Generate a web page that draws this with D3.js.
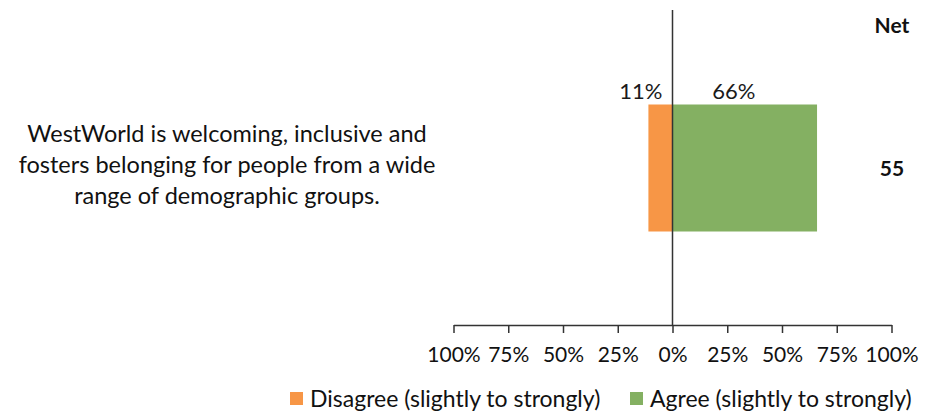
<!DOCTYPE html>
<html>
<head>
<meta charset="utf-8">
<script src="https://cdn.jsdelivr.net/npm/d3@7"></script>
<style>
  html, body { margin: 0; padding: 0; background: #fff; }
  svg { display: block; font-family: Lato, "Open Sans", sans-serif; }
</style>
</head>
<body>
<svg id="chart" width="936" height="412"></svg>
<script>
// Survey statement and its diverging results
const categories = ["WestWorld is welcoming, inclusive and fosters belonging for people from a wide range of demographic groups."];
const categoryLines = [["WestWorld is welcoming, inclusive and", "fosters belonging for people from a wide", "range of demographic groups."]];
const disagree = [11];
const agree = [66];
const net = [55];
const tickValues = [-100, -75, -50, -25, 0, 25, 50, 75, 100];
const tickLabels = ["100%", "75%", "50%", "25%", "0%", "25%", "50%", "75%", "100%"];
const seriesNames = ["Disagree (slightly to strongly)", "Agree (slightly to strongly)"];
const colors = ["#F79646", "#84B062"];

const svg = d3.select("#chart");

const x = d3.scaleLinear().domain([-100, 100]).range([453.5, 891.5]);
const y = d3.scaleBand().domain(categories).range([10, 325]).paddingInner(0).paddingOuter(0.3);
// bar band is narrower than the full row
const barH = 127;
const rowY = c => y(c) + (y.bandwidth() - barH) / 2 + 0.5;

const g = svg.append("g");
categories.forEach((c, i) => {
  // diverging bars
  g.append("rect")
    .attr("x", x(-disagree[i])).attr("y", rowY(c))
    .attr("width", x(0) - x(-disagree[i])).attr("height", barH)
    .attr("fill", colors[0]);
  g.append("rect")
    .attr("x", x(0)).attr("y", rowY(c))
    .attr("width", x(agree[i]) - x(0)).attr("height", barH)
    .attr("fill", colors[1]);

  // value labels above the bar
  g.append("text")
    .attr("x", x(0) - 10).attr("y", rowY(c) - 6)
    .attr("text-anchor", "end").attr("font-size", 22).attr("fill", "#1a1a1a")
    .text(disagree[i] + "%");
  g.append("text")
    .attr("x", (x(0) + x(agree[i])) / 2 - 11).attr("y", rowY(c) - 6)
    .attr("text-anchor", "middle").attr("font-size", 22).attr("fill", "#1a1a1a")
    .text(agree[i] + "%");

  // net score
  g.append("text")
    .attr("x", 892).attr("y", y(c) + y.bandwidth() / 2 + 8)
    .attr("text-anchor", "middle").attr("font-size", 21).attr("font-weight", "bold").attr("fill", "#111")
    .text(net[i]);

  // category label
  const t = g.append("text")
    .attr("text-anchor", "middle").attr("font-size", 23.5).attr("fill", "#111");
  categoryLines[i].forEach((line, j) => {
    t.append("tspan").attr("x", 227).attr("y", 142 + j * 31).text(line);
  });
});

// net header
svg.append("text")
  .attr("x", 892).attr("y", 33)
  .attr("text-anchor", "middle").attr("font-size", 21).attr("font-weight", "bold").attr("fill", "#111")
  .text("Net");

// zero line
svg.append("line")
  .attr("x1", x(0)).attr("x2", x(0)).attr("y1", 10).attr("y2", 325)
  .attr("stroke", "#333").attr("stroke-width", 1.5);

// bottom axis
const axis = d3.axisBottom(x)
  .tickValues(tickValues)
  .tickFormat((d, i) => tickLabels[i])
  .tickSize(8).tickSizeOuter(0).tickPadding(14);
const ax = svg.append("g").attr("transform", "translate(0,325)").call(axis);
ax.select(".domain").attr("stroke", "#333").attr("stroke-width", 1.5);
ax.selectAll(".tick line").attr("stroke", "#333").attr("stroke-width", 1.5);
ax.selectAll(".tick text").attr("font-size", 21).attr("fill", "#111").attr("font-family", "Lato, sans-serif");

// legend
const legendX = [290, 630];
seriesNames.forEach((name, i) => {
  const lg = svg.append("g").attr("transform", `translate(${legendX[i]},392)`);
  lg.append("rect").attr("width", 13).attr("height", 13).attr("fill", colors[i]);
  lg.append("text").attr("x", 20).attr("y", 14.5).attr("font-size", 23).attr("fill", "#111").text(name);
});
</script>
</body>
</html>
